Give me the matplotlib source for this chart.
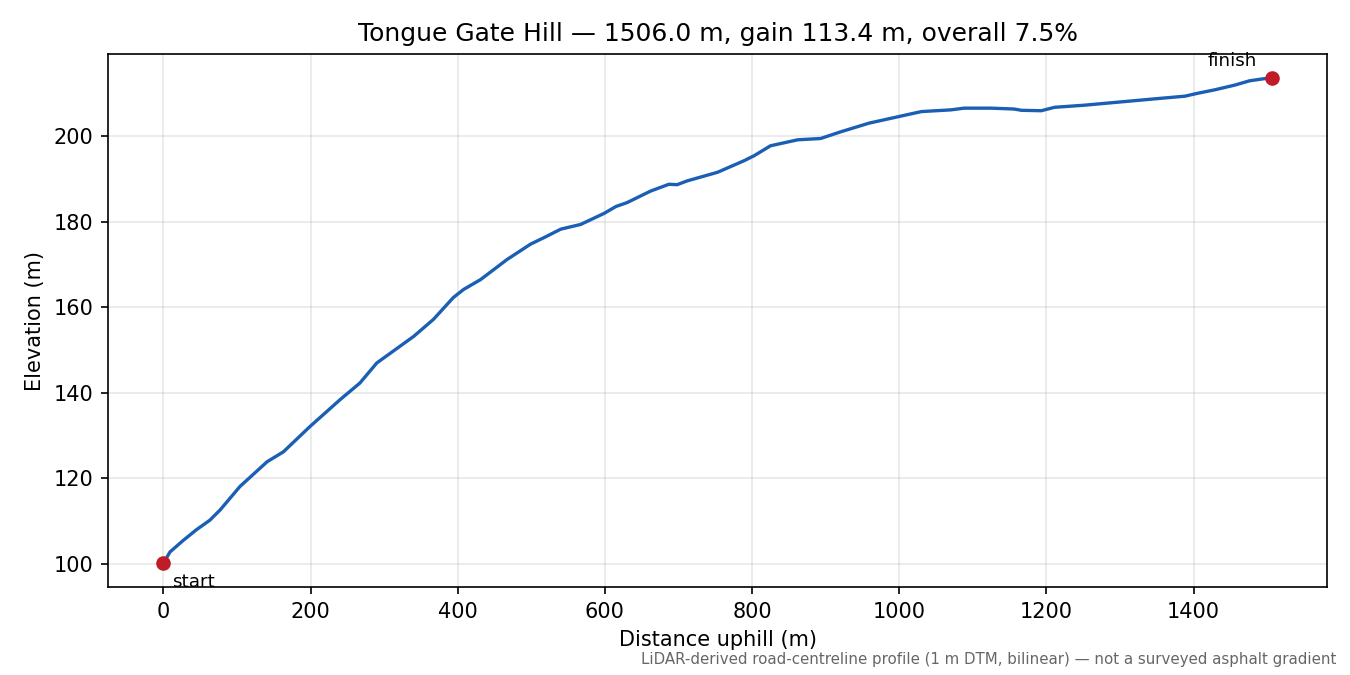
import numpy as np
import matplotlib
matplotlib.use('Agg')
import matplotlib.pyplot as plt

# profile (distance uphill, elevation)
dist = [0, 9, 27, 45, 63, 77, 104, 141, 163, 199, 240, 267, 290, 340, 367,
        394, 408, 431, 467, 499, 517, 540, 567, 599, 615, 630, 662, 687, 698,
        712, 753, 789, 803, 825, 862, 893, 921, 959, 1001, 1030, 1070, 1088,
        1125, 1156, 1166, 1193, 1211, 1252, 1297, 1342, 1388, 1406, 1429,
        1456, 1476, 1496, 1506]
elev = [100.2, 102.8, 105.5, 108.0, 110.2, 112.6, 118.1, 123.9, 126.2, 132.1,
        138.4, 142.3, 147.0, 153.2, 157.2, 162.3, 164.2, 166.5, 171.2, 174.8,
        176.3, 178.3, 179.4, 182.0, 183.6, 184.5, 187.2, 188.8, 188.7, 189.6,
        191.6, 194.3, 195.5, 197.8, 199.2, 199.5, 201.1, 203.1, 204.7, 205.8,
        206.2, 206.6, 206.6, 206.4, 206.1, 206.0, 206.8, 207.3, 208.0, 208.7,
        209.4, 210.1, 210.9, 212.0, 213.0, 213.5, 213.6]

title = 'Tongue Gate Hill \u2014 1506.0 m, gain 113.4 m, overall 7.5%'
note = 'LiDAR-derived road-centreline profile (1 m DTM, bilinear) \u2014 not a surveyed asphalt gradient'

fig, ax = plt.subplots(figsize=(9, 4.5), dpi=150)
fig.subplots_adjust(left=0.08, right=0.983, top=0.92, bottom=0.13)

ax.plot(dist, elev, color='#1a5fb4', lw=1.6)
ax.plot([dist[0]], [elev[0]], 'o', color='#c01c28', ms=6)
ax.plot([dist[-1]], [elev[-1]], 'o', color='#c01c28', ms=6)

ax.annotate('start', (dist[0], elev[0]), xytext=(4, -5), textcoords='offset points',
            ha='left', va='top', fontsize=8.8)
ax.annotate('finish', (dist[-1], elev[-1]), xytext=(-7, 4), textcoords='offset points',
            ha='right', va='bottom', fontsize=8.8)

ax.grid(True, alpha=0.3)
ax.set_xlabel('Distance uphill (m)')
ax.set_ylabel('Elevation (m)')
ax.set_title(title)

fig.text(0.99, 0.012, note, ha='right', va='bottom', fontsize=7.2, color='#666666')

plt.savefig('out.png', dpi=150)
